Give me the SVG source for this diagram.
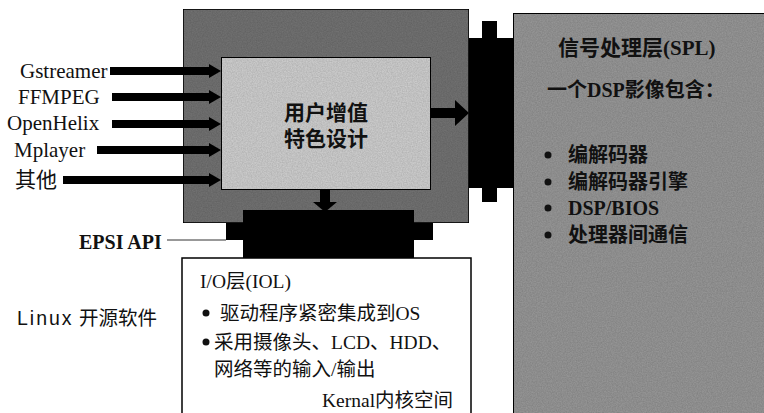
<svg xmlns="http://www.w3.org/2000/svg" width="764" height="413" viewBox="0 0 764 413">
<style>
.lbl{font-family:"Liberation Serif","Noto Sans CJK SC",serif;font-size:21px;fill:#111;}
.bold{font-family:"Liberation Serif","Noto Sans CJK SC",serif;font-weight:bold;fill:#111;}
.io{font-family:"Liberation Serif","Noto Sans CJK SC",serif;font-size:19.5px;fill:#111;}
.sans{font-family:"Liberation Sans","Noto Sans CJK SC",sans-serif;font-size:19.5px;fill:#111;}
.shaft{stroke:#000;stroke-width:8;fill:none;}
</style>
<defs>
<filter id="grain" x="0" y="0" width="100%" height="100%">
<feTurbulence type="fractalNoise" baseFrequency="0.8" numOctaves="2" seed="3" result="n"/>
<feColorMatrix in="n" type="matrix" values="0 0 0 0 0  0 0 0 0 0  0 0 0 0 0  0 0 0 0.35 0" result="a"/>
<feComposite in="a" in2="SourceGraphic" operator="in" result="b"/>
<feMerge><feMergeNode in="SourceGraphic"/><feMergeNode in="b"/></feMerge>
</filter>
</defs>

<g id="spl">
<rect x="513" y="13" width="260" height="410" fill="#9a9a9a" stroke="#000" stroke-width="2" filter="url(#grain)"/>
<text class="bold" x="558" y="55" font-size="21">信号处理层(SPL)</text>
<text class="bold" x="547" y="97" font-size="20">一个DSP影像包含：</text>
<circle cx="548" cy="155" r="3.5" fill="#111"/>
<circle cx="548" cy="182" r="3.5" fill="#111"/>
<circle cx="548" cy="208" r="3.5" fill="#111"/>
<circle cx="548" cy="235" r="3.5" fill="#111"/>
<text class="bold" x="568" y="162" font-size="20">编解码器</text>
<text class="bold" x="568" y="189" font-size="20">编解码器引擎</text>
<text class="bold" x="568" y="215" font-size="20">DSP/BIOS</text>
<text class="bold" x="568" y="242" font-size="20">处理器间通信</text>
</g>

<g id="user-layer">
<rect x="183" y="9" width="286" height="214" fill="#747474" stroke="#000" stroke-width="1.5" filter="url(#grain)"/>
</g>

<g id="value-design">
<rect x="221" y="57" width="210" height="133" fill="#d2d2d2" stroke="#000" stroke-width="2" filter="url(#grain)"/>
<text class="bold" x="326" y="120" font-size="21" text-anchor="middle" font-family="'Noto Sans CJK SC',sans-serif">用户增值</text>
<text class="bold" x="326" y="146" font-size="21" text-anchor="middle" font-family="'Noto Sans CJK SC',sans-serif">特色设计</text>
</g>

<g id="spl-interface">
<rect x="482" y="21" width="15" height="181" fill="#000"/>
<rect x="469" y="38" width="44" height="150" fill="#000"/>
</g>

<g id="epsi-api">
<rect x="243" y="210" width="171" height="48" fill="#000"/>
<rect x="226" y="223" width="207" height="17" fill="#000"/>
<line x1="167" y1="240" x2="226" y2="240" stroke="#333" stroke-width="1"/>
<text class="bold" x="79" y="249" font-size="20">EPSI API</text>
</g>

<g id="io-layer">
<rect x="182" y="258" width="289" height="170" fill="#fff" stroke="#000" stroke-width="1.5"/>
<text class="io" x="200" y="288">I/O层(IOL)</text>
<circle cx="206" cy="313" r="3.5" fill="#111"/>
<text class="io" x="220" y="320">驱动程序紧密集成到OS</text>
<circle cx="206" cy="342" r="3.5" fill="#111"/>
<text class="io" x="214" y="349">采用摄像头、LCD、HDD、</text>
<text class="io" x="214" y="376">网络等的输入/输出</text>
<text class="io" x="322" y="407">Kernal内核空间</text>
</g>

<g id="linux">
<text class="sans" x="17" y="325"><tspan letter-spacing="2">Linux</tspan> 开源软件</text>
</g>

<g id="sources">
<text class="lbl" x="20" y="78">Gstreamer</text>
<text class="lbl" x="18" y="104">FFMPEG</text>
<text class="lbl" x="7" y="130">OpenHelix</text>
<text class="lbl" x="14" y="157">Mplayer</text>
<text class="lbl" x="15" y="187" font-size="20">其他</text>
</g>

<g id="connectors">
<line class="shaft" x1="110" y1="71" x2="212" y2="71"/>
<polygon points="209,64 221,71 209,78" fill="#000"/>
<line class="shaft" x1="112" y1="97" x2="212" y2="97"/>
<polygon points="209,90 221,97 209,104" fill="#000"/>
<line class="shaft" x1="112" y1="124" x2="212" y2="124"/>
<polygon points="209,117 221,124 209,131" fill="#000"/>
<line class="shaft" x1="97" y1="150" x2="212" y2="150"/>
<polygon points="209,143 221,150 209,157" fill="#000"/>
<line class="shaft" x1="63" y1="180" x2="212" y2="180"/>
<polygon points="209,173 221,180 209,187" fill="#000"/>
<rect x="431" y="108" width="26" height="10" fill="#000"/>
<polygon points="455,100 469,113 455,126" fill="#000"/>
<rect x="320" y="190" width="10" height="14" fill="#000"/>
<polygon points="313,202 337,202 325,212" fill="#000"/>
</g>
</svg>
